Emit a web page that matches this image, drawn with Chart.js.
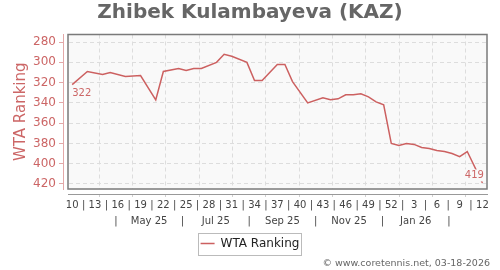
<!DOCTYPE html>
<html>
<head>
<meta charset="utf-8">
<script src="https://cdn.jsdelivr.net/npm/chart.js@4"></script>
<style>
  html, body { margin: 0; padding: 0; background: #fff; }
  #wrap { width: 500px; height: 270px; position: relative; }
</style>
</head>
<body>
<div id="wrap"><canvas id="rank-chart"></canvas></div>
<script>
// week offsets: 0 = week 10 of 2025, 54 = week 12 of 2026
const weekOffset = [0, 2, 4, 5, 7, 9, 11, 12, 14, 15, 16, 17, 19, 20, 21, 23, 24, 25, 27, 28, 29,
    31, 33, 34, 35, 36, 37, 38, 39, 40, 41, 42, 43, 44, 45, 46, 47, 48, 49, 50, 51, 52, 54];
const ranking = [322, 309, 312, 310, 314, 313, 337, 309, 306, 308, 306, 306, 300, 292, 294, 300, 318, 318, 302, 302, 319,
    340, 335, 337, 336, 332, 332, 331, 334, 339, 342, 380, 382, 380, 381, 384, 385, 387, 388, 390, 393, 388, 419];

const weekLabels = ["10", "13", "16", "19", "22", "25", "28", "31", "34", "37", "40", "43", "46", "49", "52", "3", "6", "9", "12"];
const monthLabels = ["May 25", "Jul 25", "Sep 25", "Nov 25", "Jan 26"];
const rankTicks = [280, 300, 320, 340, 360, 380, 400, 420];

// axis ranges / month grid (in weeks)
const X_MIN = -0.55, X_MAX = 54.6;
const GRID_START = 3.55, GRID_STEP = 4.386, GRID_COUNT = 12;

const LINE_COLOR = "rgb(204, 96, 96)";
const AXIS_RED = "rgb(204, 102, 102)";
const PLOT_BG = "#f9f9f9";
const FONT = "'DejaVu Sans', Verdana, sans-serif";

Chart.defaults.font.family = FONT;

const plotFrame = {
    id: "plotFrame",
    beforeDraw(chart) {
        const { ctx, chartArea: a } = chart;
        ctx.save();
        ctx.fillStyle = PLOT_BG;
        ctx.fillRect(a.left, a.top, a.width, a.height);
        ctx.restore();
    },
    beforeDatasetsDraw(chart) {
        const { ctx, chartArea: a } = chart;
        ctx.save();
        ctx.strokeStyle = "#7a7a7a";
        ctx.lineWidth = 1.5;
        ctx.strokeRect(a.left, a.top, a.width, a.height);
        ctx.restore();
    },
};

// first / last value labels
const endLabels = {
    id: "endLabels",
    afterDatasetsDraw(chart) {
        const ctx = chart.ctx;
        const pts = chart.getDatasetMeta(0).data;
        const first = pts[0];
        const last = pts[pts.length - 1];
        ctx.save();
        ctx.font = "10px " + FONT;
        ctx.textBaseline = "middle";
        ctx.fillStyle = AXIS_RED;
        ctx.textAlign = "left";
        ctx.fillText(String(ranking[0]), first.x, first.y + 9);

        const txt = String(ranking[ranking.length - 1]);
        const w = ctx.measureText(txt).width;
        const tx = last.x + 1.5;
        const ty = last.y - 7.5;
        ctx.fillStyle = PLOT_BG;
        ctx.fillRect(tx - w - 1, ty - 6, w + 2, 12);
        ctx.fillStyle = AXIS_RED;
        ctx.textAlign = "right";
        ctx.fillText(txt, tx, ty);
        ctx.restore();
    },
};

// legend border + copyright line
const extras = {
    id: "extras",
    afterDraw(chart) {
        const ctx = chart.ctx;
        const hb = chart.legend.legendHitBoxes[0];
        ctx.save();
        if (hb) {
            const cy = hb.top + hb.height / 2;
            ctx.strokeStyle = "#bbbbbb";
            ctx.lineWidth = 1;
            ctx.strokeRect(Math.round(hb.left - 3) + 0.5, Math.round(cy - 11) + 0.5, Math.round(hb.width + 4), 22);
        }
        ctx.font = "9.5px " + FONT;
        ctx.fillStyle = "#666";
        ctx.textAlign = "right";
        ctx.textBaseline = "middle";
        ctx.fillText("\u00a9 www.coretennis.net, 03-18-2026", 490, 263.5);
        ctx.restore();
    },
};

const fixWidth = (w) => (scale) => { scale.width = w; };
const fixHeight = (h) => (scale) => { scale.height = h; };

const ctx = document.querySelector("#rank-chart").getContext("2d");
const rankChart = new Chart(ctx, {
    type: "line",
    data: {
        datasets: [
            {
                label: "WTA Ranking",
                data: weekOffset.map((w, i) => ({ x: w, y: ranking[i] })),
                xAxisID: "x",
                yAxisID: "y",
                borderColor: LINE_COLOR,
                backgroundColor: LINE_COLOR,
                borderWidth: 1.5,
                pointRadius: 0,
                tension: 0,
                fill: false,
            },
        ],
    },
    options: {
        animation: false,
        responsive: true,
        maintainAspectRatio: false,
        devicePixelRatio: 1,
        events: [],
        layout: { padding: { left: 0, right: 0, top: 0, bottom: 10.5 } },
        scales: {
            x: {
                type: "linear",
                position: "bottom",
                weight: 2,
                min: X_MIN,
                max: X_MAX,
                afterBuildTicks: (scale) => {
                    const t = [];
                    weekLabels.forEach((_, i) => {
                        t.push({ value: i * 3 });
                        if (i < weekLabels.length - 1) t.push({ value: i * 3 + 1.5 });
                    });
                    scale.ticks = t;
                },
                afterFit: fixHeight(16),
                ticks: {
                    autoSkip: false,
                    maxRotation: 0,
                    minRotation: 0,
                    padding: 2.5,
                    color: "#444",
                    font: { size: 10 },
                    callback: (v, i) => (i % 2 === 0 ? weekLabels[i / 2] : "|"),
                },
                grid: { display: false, drawTicks: false },
                border: { display: false },
            },
            y: {
                position: "left",
                weight: 1,
                reverse: true,
                min: 272.5,
                max: 425,
                afterBuildTicks: (scale) => { scale.ticks = rankTicks.map((v) => ({ value: v })); },
                afterFit: fixWidth(63),
                ticks: { color: AXIS_RED, font: { size: 12 }, padding: 3 },
                grid: {
                    color: "#dddddd",
                    tickColor: "#e3a8a8",
                    tickLength: 4,
                    tickBorderDash: [],
                },
                border: { display: true, color: "#e3a8a8", width: 1, dash: [4, 3] },
                title: {
                    display: true,
                    text: "WTA Ranking",
                    color: AXIS_RED,
                    font: { size: 15 },
                    padding: { top: 11.7, bottom: 0 },
                },
            },
            yGap: {
                position: "left",
                weight: 0,
                afterFit: fixWidth(5),
                ticks: { display: false },
                grid: { display: false, drawTicks: false },
                border: { display: false },
            },
            yRight: {
                position: "right",
                afterFit: fixWidth(13),
                ticks: { display: false },
                grid: { display: false, drawTicks: false },
                border: { display: false },
            },
            xGap: {
                type: "linear",
                position: "bottom",
                weight: 0,
                min: X_MIN,
                max: X_MAX,
                afterFit: fixHeight(5),
                ticks: { display: false },
                grid: { display: false, drawTicks: false },
                border: { display: false },
            },
            xGrid: {
                type: "linear",
                position: "bottom",
                weight: 1,
                min: X_MIN,
                max: X_MAX,
                afterBuildTicks: (scale) => {
                    scale.ticks = Array.from({ length: GRID_COUNT }, (_, k) => ({ value: GRID_START + k * GRID_STEP }));
                },
                afterFit: fixHeight(3),
                ticks: { display: false },
                grid: { color: "#dddddd", tickColor: "#d0d0d0", tickLength: 3, tickBorderDash: [] },
                border: { display: true, color: "#999999", width: 1, dash: [4, 3] },
            },
            xMonth: {
                type: "linear",
                position: "bottom",
                weight: 3,
                min: X_MIN,
                max: X_MAX,
                afterBuildTicks: (scale) => {
                    scale.ticks = Array.from({ length: monthLabels.length * 2 + 1 }, (_, k) => ({
                        value: GRID_START + (k + 0.5) * GRID_STEP,
                    }));
                },
                afterFit: fixHeight(15),
                ticks: {
                    autoSkip: false,
                    maxRotation: 0,
                    minRotation: 0,
                    padding: 2.5,
                    color: "#444",
                    font: { size: 10 },
                    callback: (v, k) => (k % 2 === 1 ? monthLabels[(k - 1) / 2] : "|"),
                },
                grid: { display: false, drawTicks: false },
                border: { display: false },
            },
        },
        plugins: {
            title: {
                display: true,
                text: "Zhibek Kulambayeva (KAZ)",
                color: "#666",
                font: { size: 20, weight: "bold" },
                padding: { top: 1, bottom: 9.5 },
            },
            legend: {
                position: "bottom",
                labels: {
                    usePointStyle: true,
                    pointStyle: "line",
                    pointStyleWidth: 14,
                    color: "#222",
                    font: { size: 12 },
                    padding: 9.5,
                },
            },
            tooltip: { enabled: false },
        },
    },
    plugins: [plotFrame, endLabels, extras],
});
</script>
</body>
</html>
